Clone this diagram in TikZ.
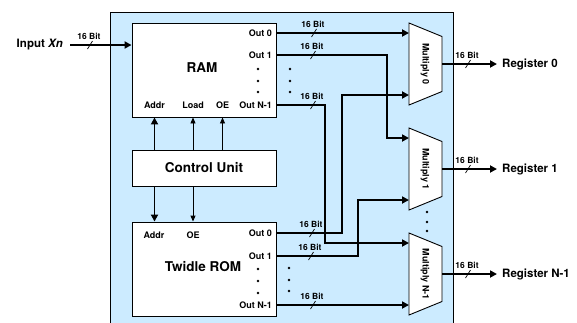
\documentclass[tikz,border=0pt]{standalone}
\usepackage{fontspec}
\setmainfont{TeX Gyre Heros}
\usetikzlibrary{arrows.meta}
\definecolor{bgblue}{RGB}{204,235,255}
\newcommand\bitmark[2]{%
  \draw[line width=0.7pt] (#1-2.5,#2+4) -- (#1+2.5,#2-4);
  \node[bitlbl, anchor=south] at (#1-1,#2-5.5) {16 Bit};
}
\begin{document}
\begin{tikzpicture}[x=1pt,y=-1pt,
  font=\bfseries,
  box/.style={draw, line width=0.9pt, fill=white, inner sep=0pt},
  bus/.style={line width=1.8pt, -{Triangle[length=7pt,width=7pt]}},
  plainbus/.style={line width=1.8pt},
  ctlthick/.style={line width=1.8pt, -{Triangle[length=7pt,width=7pt]}},
  ctlthin/.style={line width=0.9pt, -{Triangle[length=6pt,width=5pt]}},
  port/.style={font=\bfseries\fontsize{9}{10}\selectfont, inner sep=1pt},
  bitlbl/.style={font=\bfseries\fontsize{8.5}{9}\selectfont, inner sep=0pt},
  big/.style={font=\bfseries\fontsize{13.5}{15}\selectfont},
  mid/.style={font=\bfseries\fontsize{11.5}{13}\selectfont},
  mux/.style={draw, line width=0.9pt, fill=white},
  muxlbl/.style={font=\bfseries\fontsize{9}{10}\selectfont, rotate=-90, inner sep=0pt},
  dotmark/.style={circle, fill, inner sep=0pt, minimum size=2.6pt},
]
\useasboundingbox (0,0) rectangle (577,322);
% background
\fill[bgblue] (110,12) rectangle (453,323);
\draw[line width=0.8pt] (110,323) -- (110,12) -- (453,12) -- (453,323);

% boxes
\node[box, minimum width=144pt, minimum height=94pt] (ram) at (204,70) {};
\node[big] (ramt) at (202,68) {RAM};
\node[box, minimum width=144pt, minimum height=36pt, big] (cu) at (204,168) {Control Unit};
\node[box, minimum width=144pt, minimum height=94pt] (rom) at (204,269) {};
\node[big] (romt) at (203,267) {Twidle ROM};

% RAM ports
\node[port, anchor=east] (ramo0) at (273,33) {Out 0};
\node[port, anchor=east] (ramo1) at (273,55) {Out 1};
\node[port, anchor=east] (ramon) at (273,105) {Out N-1};
\node[port] (ramaddr) at (154.5,105) {Addr};
\node[port] (ramload) at (193,105) {Load};
\node[port] (ramoe) at (222.5,105) {OE};
\foreach \yy in {69,81,92} {\node[dotmark] at (258,\yy) {};}
\foreach \yy in {69,81,92} {\node[dotmark] at (290,\yy) {};}

% ROM ports
\node[port, anchor=east] (romo0) at (273,233) {Out 0};
\node[port, anchor=east] (romo1) at (273,256) {Out 1};
\node[port, anchor=east] (romon) at (273,305) {Out N-1};
\node[port] (romaddr) at (154,235) {Addr};
\node[port] (romoe) at (193,235) {OE};
\foreach \yy in {269,281,293} {\node[dotmark] at (258,\yy) {};}
\foreach \yy in {268,280,291} {\node[dotmark] at (289,\yy) {};}

% control lines
\draw[ctlthick] (ramaddr.south |- cu.north) -- (ramaddr.south |- ram.south);
\draw[ctlthin] (ramload.south |- cu.north) -- (ramload.south |- ram.south);
\draw[ctlthin] (ramoe.south |- cu.north) -- (ramoe.south |- ram.south);
\draw[ctlthick] (ramaddr.south |- cu.south) -- (ramaddr.south |- rom.north);
\draw[ctlthin] (romoe.north |- cu.south) -- (romoe.north |- rom.north);

% multipliers
\draw[mux] (409,23) -- (442,36.5) -- (442,91.5) -- (409,105) -- cycle;
\node[muxlbl] (m0) at (425,64) {Multiply 0};
\draw[mux] (409,128) -- (442,141.5) -- (442,196.5) -- (409,210) -- cycle;
\node[muxlbl] (m1) at (425,169) {Multiply 1};
\draw[mux] (409,233) -- (442,246.5) -- (442,301.5) -- (409,315) -- cycle;
\node[muxlbl] (mn) at (425,274) {Multiply N-1};
\foreach \yy in {212,222,231} {\node[dotmark] at (427,\yy) {};}

\coordinate (m0a) at (409,33);  \coordinate (m0b) at (409,95);  \coordinate (m0o) at (442,64);
\coordinate (m1a) at (409,138); \coordinate (m1b) at (409,200); \coordinate (m1o) at (442,169);
\coordinate (mna) at (409,243); \coordinate (mnb) at (409,305); \coordinate (mno) at (442,274);

% data buses
\draw[bus] (ramo0.east -| ram.east) -- (m0a);
\draw[bus] (ramo1.east -| ram.east) -- (387,55) -- (387,138) -- (m1a);
\draw[bus] (ramon.east -| ram.east) -- (325,105) -- (325,243) -- (mna);
\draw[bus] (romo0.east -| rom.east) -- (342,233) -- (342,95) -- (m0b);
\draw[bus] (romo1.east -| rom.east) -- (358,256) -- (358,200) -- (m1b);
\draw[bus] (romon.east -| rom.east) -- (mnb);
\bitmark{314}{33}
\bitmark{313}{55}
\bitmark{313}{105}
\bitmark{312}{233}
\bitmark{311}{256}
\bitmark{313}{305}

% input
\node[mid, anchor=east, inner sep=7pt] (in) at (70,45) {Input \textit{Xn}};
\draw[bus] (in.east) -- (in.east -| ram.west);
\bitmark{90}{45}

% outputs
\node[mid, anchor=west, inner sep=5pt] (r0) at (497,64) {Register 0};
\node[mid, anchor=west, inner sep=5pt] (r1) at (497,169) {Register 1};
\node[mid, anchor=west, inner sep=5pt] (rn) at (497,274) {Register N-1};
\draw[bus] (m0o) -- (r0.west);
\draw[bus] (m1o) -- (r1.west);
\draw[bus] (mno) -- (rn.west);
\bitmark{468}{64}
\bitmark{468}{169}
\bitmark{468}{274}
\end{tikzpicture}
\end{document}
